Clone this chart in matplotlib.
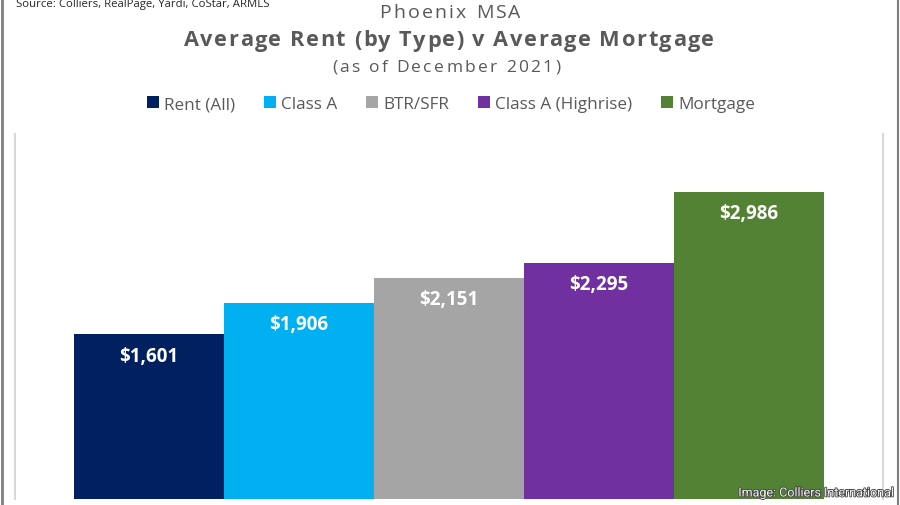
import matplotlib.pyplot as plt
import matplotlib.patheffects as pe
from matplotlib.lines import Line2D

plt.rcParams["font.family"] = ["Open Sans", "DejaVu Sans"]

categories = ["Rent (All)", "Class A", "BTR/SFR", "Class A (Highrise)", "Mortgage"]
values = [1601, 1906, 2151, 2295, 2986]
labels = ["$1,601", "$1,906", "$2,151", "$2,295", "$2,986"]
colors = ["#002060", "#00B0F0", "#A5A5A5", "#7030A0", "#548235"]

W, H = 900, 506
fig = plt.figure(figsize=(W / 100, H / 100), dpi=100)
fig.patch.set_facecolor("white")


def ypos(px):
    return 1 - px / H


def spaced_text(s, xc, yc, spacing, **kw):
    """Draw text centred on (xc, yc) pixels with extra letter spacing."""
    renderer = fig.canvas.get_renderer()
    widths = []
    for ch in s:
        if ch == " ":
            t2 = fig.text(0, 0, "a a", **kw)
            t3 = fig.text(0, 0, "aa", **kw)
            w = t2.get_window_extent(renderer).width - t3.get_window_extent(renderer).width
            t2.remove()
            t3.remove()
        else:
            t = fig.text(0, 0, ch, **kw)
            w = t.get_window_extent(renderer).width
            t.remove()
        widths.append(w)
    total = sum(widths) + spacing * (len(s) - 1)
    x = xc - total / 2
    for ch, w in zip(s, widths):
        if ch != " ":
            fig.text(x / W, ypos(yc), ch, ha="left", va="center", **kw)
        x += w + spacing


# plot area in pixel coords: x 15..883, y 140..500
ax = fig.add_axes([15 / W, (H - 500) / H, (883 - 15) / W, (500 - 140) / H])
pad = 59 / 150
ax.set_xlim(-0.5 - pad, 4.5 + pad)
ax.set_ylim(0, 3500)

for i, (cat, v, lab, c) in enumerate(zip(categories, values, labels, colors)):
    ax.bar(i, v, width=1.0, color=c, label=cat, linewidth=0)
    ax.annotate(lab, (i, v), xytext=(0, -15.5), textcoords="offset points",
                ha="center", va="center", color="white", fontsize=13.5,
                fontweight="bold")

ax.set_xticks([])
ax.set_yticks([])
for side in ("top", "bottom"):
    ax.spines[side].set_visible(False)
for side in ("left", "right"):
    ax.spines[side].set_color("#D9D9D9")
    ax.spines[side].set_linewidth(1.5)
ax.spines["left"].set_bounds(0, 3550)
ax.spines["right"].set_bounds(0, 3550)

# outer frame
fig.add_artist(Line2D([1.5 / W, 1.5 / W], [0, 1], color="#7F7F7F", lw=2))
fig.add_artist(Line2D([1 - 2 / W, 1 - 2 / W], [0, 1], color="#7F7F7F", lw=1.5))

# titles
spaced_text("Phoenix MSA", 450, 13, 2.2, fontsize=14, color="#595959")
spaced_text("Average Rent (by Type) v Average Mortgage", 449, 41, 1.5,
            fontsize=15.7, fontweight="bold", color="#595959")
spaced_text("(as of December 2021)", 446, 68, 2.3, fontsize=12.5, color="#595959")
fig.text(16 / W, ypos(5), "Source: Colliers, RealPage, Yardi, CoStar, ARMLS",
         ha="left", va="center", fontsize=8.2, color="#262626")

handles, leg_labels = ax.get_legend_handles_labels()
fig.legend(handles, leg_labels, loc="center", bbox_to_anchor=(451 / W, ypos(105)),
           ncol=5, frameon=False, fontsize=12.3, handlelength=0.7, handleheight=0.7,
           handletextpad=0.3, columnspacing=1.7, labelcolor="#595959")

fig.text(895 / W, ypos(494), "Image: Colliers International", ha="right",
         va="center", fontsize=9, color="#F2F2F2", family="Roboto",
         path_effects=[pe.withStroke(linewidth=1.2, foreground="#404040")])

fig.savefig("out.png", dpi=100, facecolor="white")
